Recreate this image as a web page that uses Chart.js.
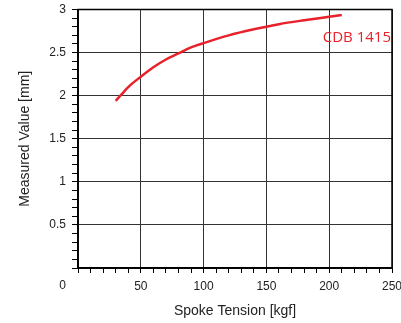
<!DOCTYPE html>
<html>
<head>
<meta charset="utf-8">
<script src="https://cdn.jsdelivr.net/npm/chart.js@4/dist/chart.umd.min.js"></script>
<style>
  html, body { margin: 0; padding: 0; background: #fff; }
  #wrap { width: 401px; height: 323px; }
</style>
</head>
<body>
<div id="wrap"><canvas id="c" width="401" height="323"></canvas></div>
<script>
"use strict";

// values
var tensionKgf = [30, 35, 40, 50, 60, 70, 80, 90, 100, 120, 140, 160, 180, 200, 210];
var measuredMm = [1.94, 2.02, 2.1, 2.22, 2.33, 2.42, 2.49, 2.56, 2.61, 2.7, 2.77, 2.83, 2.875, 2.915, 2.935];
var seriesName = 'CDB 1415';
var xTitle = 'Spoke Tension [kgf]';
var yTitle = 'Measured Value [mm]';

var red = '#e8212b';
var ink = '#222';

Chart.defaults.font.family = '"Liberation Sans", Arial, sans-serif';

function isMultiple(v, step) {
    var q = v / step;
    return Math.abs(q - Math.round(q)) < 1e-6;
}

var points = tensionKgf.map(function(x, i) {
    return {x: x, y: measuredMm[i]};
});

var frame = {
    id: 'frame',
    beforeDatasetsDraw: function(chart) {
        var a = chart.chartArea, ctx = chart.ctx;
        ctx.save();
        ctx.strokeStyle = '#000';
        ctx.lineWidth = 1.5;
        ctx.strokeRect(a.left, a.top, a.right - a.left, a.bottom - a.top);
        ctx.restore();
    },
    afterDraw: function(chart) {
        var ctx = chart.ctx, xs = chart.scales.x, ys = chart.scales.y;
        ctx.save();
        // shared origin label
        ctx.font = '12px "Liberation Sans", Arial, sans-serif';
        ctx.fillStyle = ink;
        ctx.textAlign = 'right';
        ctx.textBaseline = 'middle';
        ctx.fillText('0', xs.left - 12, ys.bottom + 18);
        // series label
        ctx.font = '15px "Open Sans", sans-serif';
        ctx.fillStyle = red;
        ctx.textAlign = 'right';
        ctx.fillText(seriesName, xs.getPixelForValue(250) - 1, ys.getPixelForValue(2.67));
        ctx.restore();
    }
};

createChart(document.getElementById('c'), {
    type: 'line',
    data: {
        datasets: [{
            label: seriesName,
            data: points,
            borderColor: red,
            borderWidth: 2.5,
            pointRadius: 0,
            cubicInterpolationMode: 'monotone',
            fill: false
        }]
    },
    options: {
        responsive: false,
        animation: false,
        layout: {padding: {top: 9.5, right: 9, left: 0, bottom: 0}},
        plugins: {legend: {display: false}, tooltip: {enabled: false}},
        scales: {
            x: {
                type: 'linear',
                min: 0,
                max: 250,
                afterFit: function(scale) {
                    scale.height = 55;
                    scale.paddingLeft = 0;
                    scale.paddingRight = 0;
                },
                border: {color: '#000', width: 1.5},
                grid: {
                    color: function(c) { return c.tick && isMultiple(c.tick.value, 50) ? '#333' : 'transparent'; },
                    tickColor: '#000',
                    tickLength: 5,
                    lineWidth: 1
                },
                ticks: {
                    stepSize: 10,
                    autoSkip: false,
                    maxTicksLimit: 100,
                    maxRotation: 0,
                    padding: 6,
                    color: ink,
                    font: {size: 12},
                    callback: function(v) { return isMultiple(v, 50) && v !== 0 ? String(v) : ''; }
                },
                title: {display: true, text: xTitle, color: ink, font: {size: 14}, padding: {top: 0, bottom: 3}}
            },
            y: {
                min: 0,
                max: 3,
                afterFit: function(scale) {
                    scale.width = 78;
                    scale.paddingTop = 0;
                    scale.paddingBottom = 0;
                },
                border: {color: '#000', width: 1.5},
                grid: {
                    color: function(c) { return c.tick && isMultiple(c.tick.value, 0.5) ? '#333' : 'transparent'; },
                    tickColor: '#000',
                    tickLength: 6,
                    lineWidth: 1
                },
                ticks: {
                    stepSize: 0.1,
                    autoSkip: false,
                    maxTicksLimit: 100,
                    padding: 6,
                    color: ink,
                    font: {size: 12},
                    callback: function(v) { return isMultiple(v, 0.5) && v !== 0 ? String(+v.toFixed(1)) : ''; }
                },
                title: {display: true, text: yTitle, color: ink, font: {size: 14}, padding: {top: 17, bottom: 0}}
            }
        }
    },
    plugins: [frame]
});

function createChart(element, options) {
    return new Chart(element, options);
}
</script>
</body>
</html>
